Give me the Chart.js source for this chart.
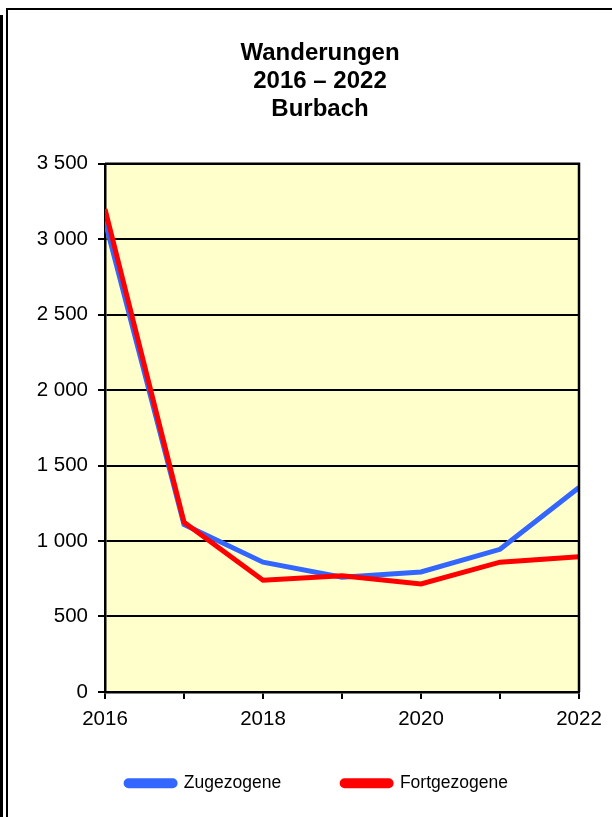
<!DOCTYPE html>
<html>
<head>
<meta charset="utf-8">
<script src="https://cdn.jsdelivr.net/npm/chart.js@4/dist/chart.umd.min.js"></script>
<style>
  html, body { margin: 0; padding: 0; background: #fff; overflow: hidden; }
  body { width: 612px; height: 817px; position: relative; }
  .edge { position: absolute; background: #000; }
  #wrap { position: absolute; left: 8px; top: 10px; width: 624px; height: 818px; }
</style>
</head>
<body>
<div class="edge" style="left:0;top:15px;width:3px;height:802px"></div>
<div class="edge" style="left:6px;top:8px;width:2px;height:809px"></div>
<div class="edge" style="left:6px;top:8px;width:606px;height:2px"></div>
<div id="wrap"><canvas id="chart"></canvas></div>
<script>
const years = [2016, 2017, 2018, 2019, 2020, 2021, 2022];
const zugezogene = [3120, 1110, 860, 760, 795, 945, 1355];
const fortgezogene = [3200, 1125, 740, 770, 715, 860, 895];
const titleLines = ['Wanderungen', '2016 – 2022', 'Burbach'];

const font = "'Liberation Sans', Arial, sans-serif";

// yellow plot background + black frame round the plot area
const plotFrame = {
    id: 'plotFrame',
    beforeDraw(chart) {
        const a = chart.chartArea;
        const ctx = chart.ctx;
        ctx.save();
        ctx.fillStyle = '#FFFFCC';
        ctx.fillRect(a.left, a.top, a.right - a.left, a.bottom - a.top);
        ctx.restore();
    },
    afterDatasetsDraw(chart) {
        const a = chart.chartArea;
        const ctx = chart.ctx;
        ctx.save();
        ctx.strokeStyle = '#000';
        ctx.lineWidth = 2.5;
        ctx.beginPath();
        ctx.moveTo(a.left, a.top);
        ctx.lineTo(a.right, a.top);
        ctx.lineTo(a.right, a.bottom);
        ctx.stroke();
        ctx.restore();
    }
};

// the wide label padding also pads the legend at the top, pull it back up
const legendShift = {
    id: 'legendShift',
    afterLayout(chart) {
        const l = chart.legend;
        l.top -= 26;
        l.bottom -= 26;
        l.left -= 3;
        l.right -= 3;
    }
};

const ctx = document.getElementById('chart').getContext('2d');
new Chart(ctx, {
    type: 'line',
    data: {
        labels: years,
        datasets: [{
            label: 'Zugezogene',
            data: years.map((y, i) => ({ x: y, y: zugezogene[i] })),
            borderColor: '#3366FF',
            backgroundColor: '#3366FF',
            borderWidth: 5,
            pointRadius: 0,
            tension: 0,
            order: 1
        }, {
            label: 'Fortgezogene',
            data: years.map((y, i) => ({ x: y, y: fortgezogene[i] })),
            borderColor: '#FF0000',
            backgroundColor: '#FF0000',
            borderWidth: 5,
            pointRadius: 0,
            tension: 0,
            order: 0
        }]
    },
    options: {
        responsive: true,
        maintainAspectRatio: false,
        animation: false,
        layout: { padding: { bottom: 0 } },
        plugins: {
            title: {
                display: true,
                text: titleLines,
                color: '#000',
                font: { family: font, size: 24, weight: 'bold', lineHeight: 1.15 },
                padding: { top: 30, bottom: 41 }
            },
            legend: {
                position: 'bottom',
                labels: {
                    color: '#000',
                    font: { family: font, size: 17.5 },
                    boxWidth: 49,
                    boxHeight: 5,
                    useBorderRadius: true,
                    borderRadius: 2.5,
                    padding: 61,
                    sort: (a, b) => a.datasetIndex - b.datasetIndex
                }
            },
            tooltip: { enabled: false }
        },
        scales: {
            x: {
                type: 'linear',
                min: 2016,
                max: 2022,
                ticks: {
                    stepSize: 1,
                    color: '#000',
                    font: { family: font, size: 20.5 },
                    padding: 8,
                    maxRotation: 0,
                    callback: v => (v % 2 === 0 ? String(v) : '')
                },
                grid: {
                    drawOnChartArea: false,
                    color: '#000',
                    tickColor: '#000',
                    tickLength: 7,
                    lineWidth: 2
                },
                border: { color: '#000', width: 2.5 }
            },
            y: {
                min: 0,
                max: 3500,
                ticks: {
                    stepSize: 500,
                    color: '#000',
                    font: { family: font, size: 20.5 },
                    padding: 10,
                    callback: v => String(v).replace(/\B(?=(\d{3})+(?!\d))/g, ' ')
                },
                grid: {
                    color: '#000',
                    tickColor: '#000',
                    tickLength: 7,
                    lineWidth: 2
                },
                border: { color: '#000', width: 2.5 },
                afterFit: axis => { axis.width = 97; }
            },
            // empty right-hand axis: keeps the plot off the right edge
            // without shifting the centred title and legend
            yRight: {
                position: 'right',
                min: 0,
                max: 3500,
                ticks: { display: false },
                grid: { display: false },
                border: { display: false },
                afterFit: axis => { axis.width = 53; }
            }
        }
    },
    plugins: [plotFrame, legendShift]
});
</script>
</body>
</html>
